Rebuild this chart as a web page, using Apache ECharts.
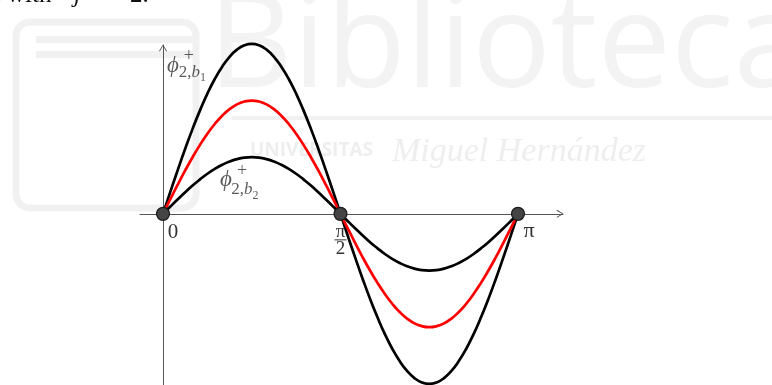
<!DOCTYPE html>
<html>
<head>
<meta charset="utf-8">
<script src="https://cdn.jsdelivr.net/npm/echarts@6/dist/echarts.min.js"></script>
<style>
html,body{margin:0;padding:0;background:#fff;}
#chart{width:772px;height:385px;}
</style>
</head>
<body>
<div id="chart"></div>
<script>
// x in units of pi
const xs = [0, 0.0208, 0.0417, 0.0625, 0.0833, 0.1042, 0.125, 0.1458, 0.1667, 0.1875, 0.2083, 0.2292, 0.25,
            0.2708, 0.2917, 0.3125, 0.3333, 0.3542, 0.375, 0.3958, 0.4167, 0.4375, 0.4583, 0.4792, 0.5,
            0.5208, 0.5417, 0.5625, 0.5833, 0.6042, 0.625, 0.6458, 0.6667, 0.6875, 0.7083, 0.7292, 0.75,
            0.7708, 0.7917, 0.8125, 0.8333, 0.8542, 0.875, 0.8958, 0.9167, 0.9375, 0.9583, 0.9792, 1];
const outerVals = [0, 0.196, 0.388, 0.574, 0.75, 0.913, 1.061, 1.190, 1.299, 1.386, 1.449, 1.487, 1.50,
                   1.487, 1.449, 1.386, 1.299, 1.190, 1.061, 0.913, 0.75, 0.574, 0.388, 0.196, 0,
                   -0.196, -0.388, -0.574, -0.75, -0.913, -1.061, -1.190, -1.299, -1.386, -1.449, -1.487, -1.50,
                   -1.487, -1.449, -1.386, -1.299, -1.190, -1.061, -0.913, -0.75, -0.574, -0.388, -0.196, 0];
const redVals = [0, 0.131, 0.259, 0.383, 0.50, 0.609, 0.707, 0.793, 0.866, 0.924, 0.966, 0.991, 1.00,
                 0.991, 0.966, 0.924, 0.866, 0.793, 0.707, 0.609, 0.50, 0.383, 0.259, 0.131, 0,
                 -0.131, -0.259, -0.383, -0.50, -0.609, -0.707, -0.793, -0.866, -0.924, -0.966, -0.991, -1.00,
                 -0.991, -0.966, -0.924, -0.866, -0.793, -0.707, -0.609, -0.50, -0.383, -0.259, -0.131, 0];
const innerVals = [0, 0.065, 0.129, 0.191, 0.25, 0.304, 0.354, 0.397, 0.433, 0.462, 0.483, 0.496, 0.50,
                   0.496, 0.483, 0.462, 0.433, 0.397, 0.354, 0.304, 0.25, 0.191, 0.129, 0.065, 0,
                   -0.065, -0.129, -0.191, -0.25, -0.304, -0.354, -0.397, -0.433, -0.462, -0.483, -0.496, -0.50,
                   -0.496, -0.483, -0.462, -0.433, -0.397, -0.354, -0.304, -0.25, -0.191, -0.129, -0.065, 0];
const pointXs = [0, 0.5, 1];
const pointLabels = ['0', 'π/2', 'π'];
const curveNames = ['ϕ⁺₂,b₁', 'red', 'ϕ⁺₂,b₂'];

const SERIF = '"Liberation Serif","DejaVu Serif",serif';
const TXT = '#333';

function pairs(vals){ return xs.map((x,i)=>[x, vals[i]]); }

const arrow = 'path://M5,0 L10,8 L9,8.7 L5,1.9 L1,8.7 L0,8 Z';

const pointData = pointXs.map((x,i)=>{
  const lab = pointLabels[i];
  let label;
  if (lab === 'π/2') {
    label = {show:true, position:'inside', offset:[0,27],
      formatter:'{n|π}\n{bar|}\n{d|2}',
      rich:{
        n:{fontFamily:SERIF, fontSize:19, lineHeight:13, color:TXT, align:'center'},
        bar:{width:12, height:1, lineHeight:3, backgroundColor:TXT, align:'center'},
        d:{fontFamily:SERIF, fontSize:19, lineHeight:15, color:TXT, align:'center'}
      }};
  } else if (lab === '0') {
    label = {show:true, position:'inside', offset:[10,19], formatter:'0',
      fontFamily:SERIF, fontSize:21, color:TXT};
  } else {
    label = {show:true, position:'inside', offset:[11,17], formatter:'π',
      fontFamily:SERIF, fontSize:22, color:TXT};
  }
  return {value:[x,0], label};
});

const phiRich = {p:{fontFamily:SERIF, fontStyle:'italic', fontSize:23, color:TXT}};
const plusRich = {s:{fontFamily:SERIF, fontSize:18, color:TXT}};
const subRich = {
  a:{fontFamily:SERIF, fontSize:17, color:TXT, lineHeight:18, verticalAlign:'middle'},
  b:{fontFamily:SERIF, fontStyle:'italic', fontSize:17, color:TXT, lineHeight:18, verticalAlign:'middle'},
  c:{fontFamily:SERIF, fontSize:12, color:TXT, lineHeight:12, verticalAlign:'bottom', padding:[0,0,-3,0]}
};
// annotation anchors (data coords) for the curve names
const annoData = [
  {value:[0.028, 1.306], label:{show:true, position:'inside', formatter:'{p|ϕ}', rich:phiRich}},
  {value:[0.073, 1.39], label:{show:true, position:'inside', formatter:'{s|+}', rich:plusRich}},
  {value:[0.043, 1.25], label:{show:true, position:'right', distance:0, formatter:'{a|2,}{b|b}{c|1}', rich:subRich}},
  {value:[0.177, 0.300], label:{show:true, position:'inside', formatter:'{p|ϕ}', rich:phiRich}},
  {value:[0.223, 0.38], label:{show:true, position:'inside', formatter:'{s|+}', rich:plusRich}},
  {value:[0.191, 0.215], label:{show:true, position:'right', distance:0, formatter:'{a|2,}{b|b}{c|2}', rich:subRich}}
];

const chart = echarts.init(document.getElementById('chart'), null, {renderer:'canvas'});
const WM = '#f1f1f1';
chart.setOption({
  animation:false,
  backgroundColor:'#fff',
  graphic:[
    {type:'rect', z:-10, silent:true, shape:{x:16, y:22, width:180, height:186, r:14}, style:{fill:'none', stroke:WM, lineWidth:7}},
    {type:'rect', z:-10, silent:true, shape:{x:36, y:36, width:160, height:7}, style:{fill:WM}},
    {type:'rect', z:-10, silent:true, shape:{x:36, y:51, width:160, height:7}, style:{fill:WM}},
    {type:'text', z:-10, silent:true, left:208, top:-16, style:{text:'Biblioteca', fontFamily:'"Open Sans",sans-serif', fontWeight:'normal', fontSize:131, fill:'#f3f3f3'}},
    {type:'rect', z:-10, silent:true, shape:{x:232, y:116, width:540, height:4}, style:{fill:WM}},
    {type:'text', z:-10, silent:true, left:250, top:141, style:{text:'UNIVERSITAS', fontFamily:'"Open Sans",sans-serif', fontWeight:'bold', fontSize:19, fill:'#eeeeee'}},
    {type:'text', z:-10, silent:true, left:392, top:135, style:{text:'Miguel Hernández', fontFamily:SERIF, fontStyle:'italic', fontSize:34, fill:'#eeeeee'}},
    {type:'text', z:5, silent:true, left:-6, top:-17, style:{text:'y', fontFamily:SERIF, fontStyle:'italic', fontSize:25, fill:'#111'}},
    {type:'text', z:5, silent:true, left:7, top:-17, style:{text:'with', fontFamily:SERIF, fontSize:25, fill:'#111'}},
    {type:'text', z:5, silent:true, left:74, top:-17, style:{text:'j', fontFamily:SERIF, fontStyle:'italic', fontSize:25, fill:'#111'}},
    {type:'text', z:5, silent:true, left:105, top:-17, style:{text:'=', fontFamily:SERIF, fontSize:25, fill:'#111'}},
    {type:'text', z:5, silent:true, left:130, top:-17, style:{text:'2.', fontFamily:SERIF, fontSize:25, fill:'#111'}}
  ],
  grid:{left:140, width:423, top:45, height:340, containLabel:false},
  xAxis:{type:'value', min:-0.0648, max:1.1268,
    axisLine:{show:true, onZero:true, lineStyle:{color:'#555', width:1}, symbol:['none', arrow], symbolSize:[8,7], symbolOffset:[0,-3]},
    axisTick:{show:false}, axisLabel:{show:false}, splitLine:{show:false}},
  yAxis:{type:'value', min:-1.51, max:1.49,
    axisLine:{show:true, onZero:true, lineStyle:{color:'#555', width:1}, symbol:['none', arrow], symbolSize:[8,7], symbolOffset:[0,-3]},
    axisTick:{show:false}, axisLabel:{show:false}, splitLine:{show:false}},
  series:[
    {name:curveNames[0], type:'line', data:pairs(outerVals), smooth:true, showSymbol:false, clip:false,
     lineStyle:{color:'#000', width:2.7}, z:3},
    {name:curveNames[1], type:'line', data:pairs(redVals), smooth:true, showSymbol:false, clip:false,
     lineStyle:{color:'#ff0000', width:2.7}, z:3},
    {name:curveNames[2], type:'line', data:pairs(innerVals), smooth:true, showSymbol:false, clip:false,
     lineStyle:{color:'#000', width:2.7}, z:3},
    {name:'points', type:'scatter', data:pointData, symbolSize:13, clip:false,
     itemStyle:{color:'#444', borderColor:'#1a1a1a', borderWidth:1.2, opacity:1}, z:6},
    {name:'labels', type:'scatter', data:annoData, symbol:'circle', symbolSize:1, clip:false, silent:true, z:7,
     itemStyle:{color:'rgba(0,0,0,0)'}}
  ]
});
</script>
</body>
</html>
